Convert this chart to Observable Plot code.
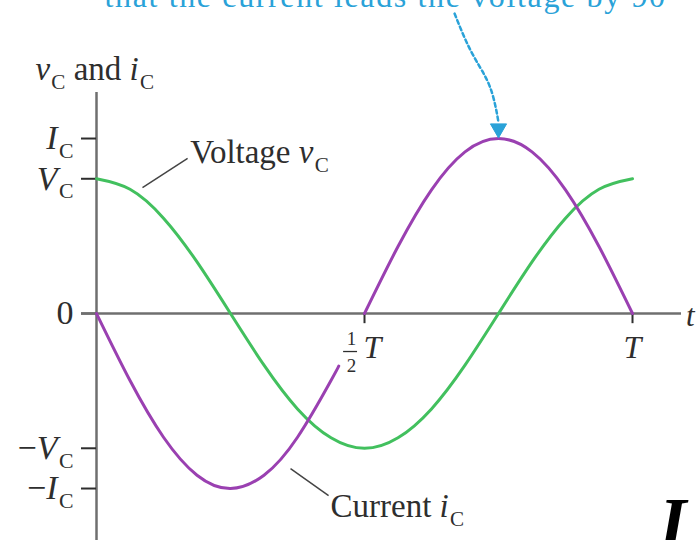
<!DOCTYPE html>
<html>
<head>
<meta charset="utf-8">
<script src="https://cdn.jsdelivr.net/npm/d3@7"></script>
<script src="https://cdn.jsdelivr.net/npm/@observablehq/plot@0.6"></script>
<style>
  html, body { margin: 0; padding: 0; background: #fff; }
  #chart svg { display: block; }
</style>
</head>
<body>
<div id="chart"></div>
<script>
// ---------- data (t in units of the period T; values in units of I_C) ----------
const voltageT = [0, 0.0625, 0.125, 0.1875, 0.25, 0.3125, 0.375, 0.4375, 0.5, 0.5625, 0.625, 0.6875, 0.75, 0.8125, 0.875, 0.9375, 1];
const voltageV = [0.77, 0.71, 0.545, 0.295, 0, -0.295, -0.545, -0.71, -0.77, -0.71, -0.545, -0.295, 0, 0.295, 0.545, 0.71, 0.77];
// current curve is interrupted around the "1/2 T" label (NaN = gap)
const currentT = [0, 0.0625, 0.125, 0.1875, 0.25, 0.3125, 0.375, 0.4375, 0.452, 0.47, 0.5, 0.5625, 0.625, 0.6875, 0.75, 0.8125, 0.875, 0.9375, 1];
const currentI = [0, -0.383, -0.707, -0.924, -1, -0.924, -0.707, -0.383, -0.3, NaN, 0, 0.383, 0.707, 0.924, 1, 0.924, 0.707, 0.383, 0];

const yTickValues = [1, 0.77, 0, -0.77, -1];
const yTickLabels = ["*I*_C", "*V*_C", "0", "−*V*_C", "−*I*_C"];
const xTickValues = [0.5, 1];
const xTickLabels = ["*T*", "*T*"];
const halfFraction = ["1", "2"];
const axisTitleY = "*v*_C and *i*_C";
const axisTitleX = "*t*";

const seriesLabels = ["Voltage *v*_C", "Current *i*_C"];
const seriesLabelX = [0.175, 0.4366];
const seriesLabelY = [0.918, -1.105];
const leaderX1 = [0.0858, 0.362];
const leaderY1 = [0.72, -0.886];
const leaderX2 = [0.170, 0.433];
const leaderY2 = [0.886, -1.04];

const calloutText = "that the current leads the voltage by 90°";
const arrowX = [0.668, 0.698, 0.729, 0.744, 0.75];
const arrowY = [1.714, 1.503, 1.331, 1.189, 1.091];
const arrowTip = [{x: 0.75, y: 1.057}];
const cornerLetter = "I";

// ---------- tables ----------
const vData = voltageT.map((t, i) => ({t, v: voltageV[i]}));
const cData = currentT.map((t, i) => ({t, v: currentI[i]}));
const arrowData = arrowX.map((x, i) => ({x, y: arrowY[i]}));
const leaders = leaderX1.map((x1, i) => ({x1, y1: leaderY1[i], x2: leaderX2[i], y2: leaderY2[i]}));
const labelsData = seriesLabels.map((text, i) => ({text, x: seriesLabelX[i], y: seriesLabelY[i]}));

const GREEN = "#42c05e";
const PURPLE = "#9a40b1";
const BLUE = "#2aa2d8";
const AXIS = "#6f6f6f";
const INK = "#2e2e2e";
const SERIF = "'Liberation Serif', 'DejaVu Serif', serif";

const plot = Plot.plot({
  width: 700,
  height: 540,
  marginLeft: 96,
  marginRight: 19,
  marginTop: 92,
  marginBottom: 0,
  x: {domain: [0, 1.0914], axis: null},
  y: {domain: [-1.297, 1.263]},
  style: {background: "#fff", fontFamily: SERIF, color: INK, overflow: "visible"},
  marks: [
    // y axis line
    Plot.ruleX([0], {y1: -1.3, y2: 1.263, stroke: AXIS, strokeWidth: 2.5}),
    // y axis ticks + labels
    Plot.axisY(yTickValues, {
      tickFormat: d => yTickLabels[yTickValues.indexOf(d)],
      tickSize: 15, tickPadding: 8, fontSize: 34,
      color: INK, strokeWidth: 2, label: null
    }),
    // x axis line (also forms the "0" tick)
    Plot.ruleY([0], {x1: -0.028, x2: 1.0914, stroke: AXIS, strokeWidth: 2.5}),
    // x ticks
    Plot.ruleX(xTickValues, {y1: 0, y2: -0.058, stroke: INK, strokeWidth: 2}),
    // x tick labels
    Plot.text([xTickValues[0]], {x: d => d, y: 0, text: () => xTickLabels[0], dx: 8, dy: 34, fontSize: 32, fill: INK}),
    Plot.text([xTickValues[1]], {x: d => d, y: 0, text: () => xTickLabels[1], dx: 0, dy: 34, fontSize: 32, fill: INK}),
    Plot.text([xTickValues[0]], {x: d => d, y: 0, text: () => halfFraction[0], dx: -13, dy: 25, fontSize: 19, fill: INK}),
    Plot.text([xTickValues[0]], {x: d => d, y: 0, text: () => halfFraction[1], dx: -13, dy: 52, fontSize: 19, fill: INK}),
    Plot.ruleY([0], {x1: 0.461, x2: 0.487, dy: 38, stroke: INK, strokeWidth: 1.3}),
    // axis titles
    Plot.text([axisTitleY], {x: -0.114, y: 1.392, text: d => d, textAnchor: "start", fontSize: 33, fill: INK}),
    Plot.text([axisTitleX], {x: 1.108, y: -0.014, text: d => d, fontSize: 31, fill: INK}),
    // curves
    Plot.line(vData, {x: "t", y: "v", stroke: GREEN, strokeWidth: 3, curve: "natural"}),
    Plot.line(cData, {x: "t", y: "v", stroke: PURPLE, strokeWidth: 3, curve: "natural"}),
    // leader lines and series labels
    Plot.link(leaders, {x1: "x1", y1: "y1", x2: "x2", y2: "y2", stroke: "#444", strokeWidth: 1.5}),
    Plot.text(labelsData, {x: "x", y: "y", text: "text", textAnchor: "start", fontSize: 33, fill: INK}),
    // callout arrow
    Plot.line(arrowData, {x: "x", y: "y", stroke: BLUE, strokeWidth: 2.5, strokeDasharray: "4,3", curve: "natural"}),
    Plot.dot(arrowTip, {x: "x", y: "y", symbol: "triangle", rotate: 180, r: 6, fill: BLUE, stroke: BLUE, strokeWidth: 1}),
    Plot.text([calloutText], {x: 0.0149, y: 1.81, text: d => d, textAnchor: "start", fontSize: 32, fill: BLUE}),
    // cut-off corner letter
    Plot.text([cornerLetter], {x: 1.05, y: -1.2, text: d => d, textAnchor: "start", fontSize: 70, fontWeight: "bold", fontStyle: "italic", fill: "#000"})
  ]
});

document.getElementById("chart").appendChild(plot);

// rich-text: *x* = italic, _C = upright subscript C
d3.select(plot).selectAll("text").each(function () {
  const s = this.textContent;
  if (!/[*_]/.test(s)) return;
  const fs = parseFloat(getComputedStyle(this).fontSize) || 30;
  const shift = 0.26 * fs;
  const parts = s.split(/(\*[^*]+\*|_C)/).filter(p => p !== "");
  this.textContent = "";
  let pendingUp = 0;
  for (const p of parts) {
    const ts = d3.select(this).append("tspan");
    if (p === "_C") {
      ts.text("C").attr("font-size", (0.64 * fs).toFixed(1)).attr("font-style", "normal")
        .attr("dx", (0.04 * fs).toFixed(1)).attr("dy", shift);
      pendingUp = shift;
    } else {
      if (p.startsWith("*")) ts.text(p.slice(1, -1)).attr("font-style", "italic");
      else ts.text(p).attr("font-style", "normal");
      if (pendingUp) { ts.attr("dy", -pendingUp); pendingUp = 0; }
    }
  }
});

// stretch callout to the width it occupies in the reference
d3.select(plot).selectAll("text").filter(function () { return this.textContent === calloutText; })
  .attr("textLength", 575).attr("lengthAdjust", "spacing");
</script>
</body>
</html>
